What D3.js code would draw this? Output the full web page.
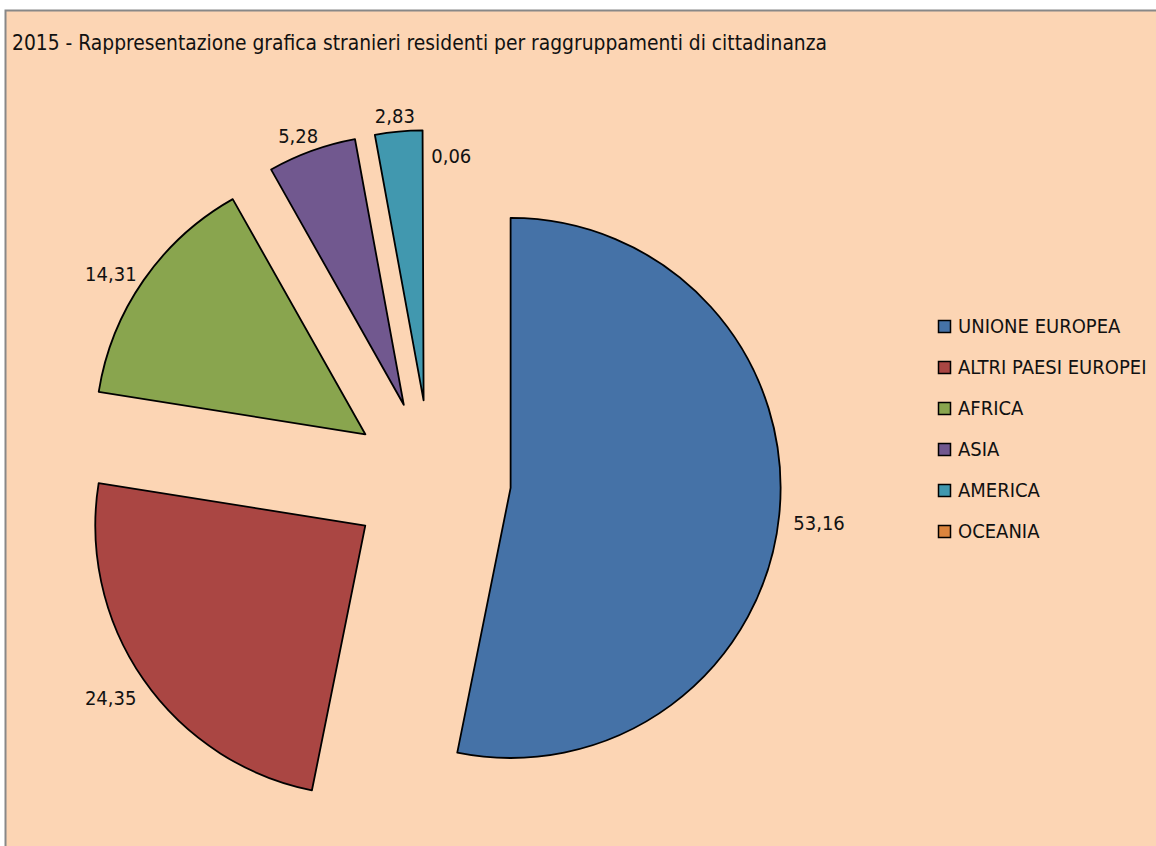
<!DOCTYPE html>
<html>
<head>
<meta charset="utf-8">
<script src="https://cdn.jsdelivr.net/npm/d3@7"></script>
<style>
    html, body { margin: 0; padding: 0; background: #fff; }
    #chart { width: 1156px; height: 846px; }
    text { font-family: "Liberation Sans Narrow", "DejaVu Sans Condensed", "Roboto", sans-serif; fill: #111; }
</style>
</head>
<body>
<div id="chart"></div>
<script>
var categories = ["UNIONE EUROPEA", "ALTRI PAESI EUROPEI", "AFRICA", "ASIA", "AMERICA", "OCEANIA"];
var values = [53.16, 24.35, 14.31, 5.28, 2.83, 0.06];
var labels = ["53,16", "24,35", "14,31", "5,28", "2,83", "0,06"];
var colors = ["#4572A7", "#AA4643", "#89A54E", "#71588F", "#4198AF", "#DB843D"];
var title = "2015 - Rappresentazione grafica stranieri residenti per raggruppamenti di cittadinanza";

var width = 1156, height = 846;
var cx = 431, cy = 480, radius = 270, explode = 80;
var labelRx = 310, labelRy = 292;

var svg = d3.select("#chart")
    .append("svg")
    .attr("width", width)
    .attr("height", height);

// chart area background + frame (cut off at right and bottom)
svg.append("rect")
    .attr("x", 5.5).attr("y", 10.5)
    .attr("width", width + 10).attr("height", height + 10)
    .attr("fill", "#FCD5B4")
    .attr("stroke", "#888")
    .attr("stroke-width", 2);

svg.append("text")
    .attr("x", 12)
    .attr("y", 50)
    .style("font-size", "20.8px")
    .text(title);

var data = categories.map((c, i) => ({ name: c, value: values[i], label: labels[i], color: colors[i] }));

var pie = d3.pie()
    .value(d => d.value)
    .sort(null);

var arc = d3.arc()
    .innerRadius(0)
    .outerRadius(radius);

var arcs = pie(data);

var g = svg.append("g")
    .attr("transform", `translate(${cx},${cy})`);

function mid(d) { return (d.startAngle + d.endAngle) / 2; }

var slice = g.selectAll("g.slice")
    .data(arcs)
    .enter()
    .append("g")
    .attr("class", "slice")
    .attr("transform", d => `translate(${explode * Math.sin(mid(d))},${-explode * Math.cos(mid(d))})`);

// very thin slices are too small to show an outline
slice.append("path")
    .attr("d", arc)
    .attr("fill", d => d.data.color)
    .attr("stroke", d => (d.endAngle - d.startAngle) < 0.01 ? "none" : "#000")
    .attr("fill-opacity", d => (d.endAngle - d.startAngle) < 0.01 ? 0 : 1)
    .attr("stroke-width", 1.8)
    .attr("stroke-linejoin", "round");

slice.append("text")
    .attr("transform", (d, i) => {
        var a = mid(d);
        var p = [labelRx * Math.sin(a), -labelRy * Math.cos(a) + 6];
        // the tiny last slice's label is pushed aside so it doesn't collide
        if (i === arcs.length - 1) p = [p[0] + 21, p[1] + 42];
        return `translate(${p[0]},${p[1]})`;
    })
    .attr("text-anchor", "middle")
    .attr("dy", "0.35em")
    .style("font-size", "20px")
    .text(d => d.data.label);

// legend
var legend = svg.append("g")
    .attr("transform", "translate(938,326)");

var item = legend.selectAll("g")
    .data(data)
    .enter()
    .append("g")
    .attr("transform", (d, i) => `translate(0,${i * 41})`);

item.append("rect")
    .attr("x", 0.5).attr("y", -5.5)
    .attr("width", 12).attr("height", 12)
    .attr("fill", d => d.color)
    .attr("stroke", "#000")
    .attr("stroke-width", 1.5);

item.append("text")
    .attr("x", 20)
    .attr("y", 0)
    .attr("dy", "0.35em")
    .style("font-size", "20px")
    .text(d => d.name);
</script>
</body>
</html>
